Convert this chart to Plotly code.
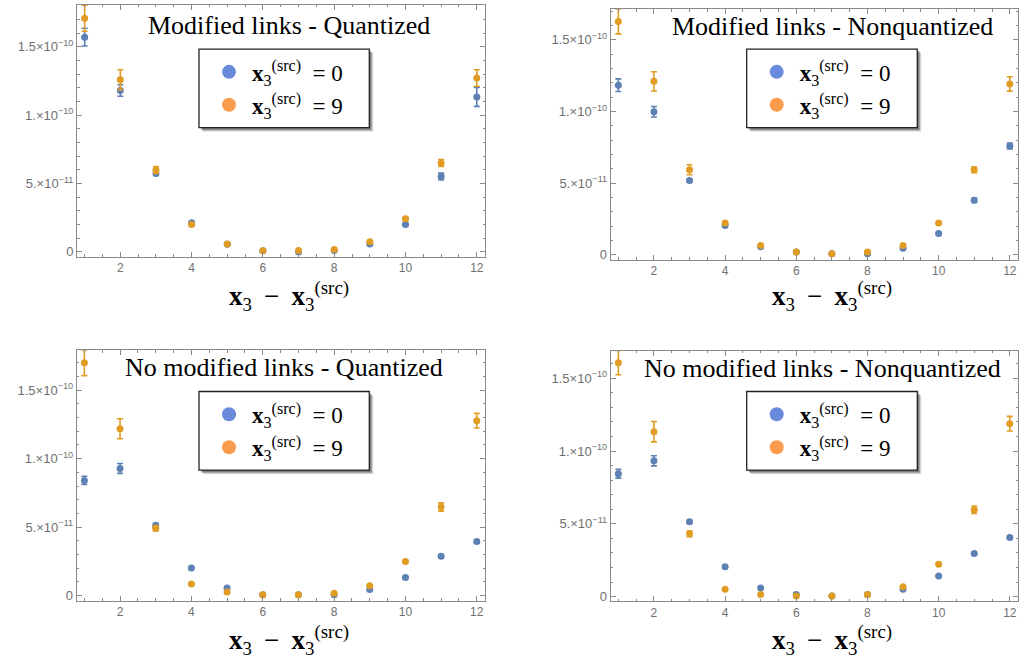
import plotly.graph_objects as go

# ---------------- data (values in units of 1e-11) ----------------
x_sep = [1, 2, 3, 4, 5, 6, 7, 8, 9, 10, 11, 12]

titles = ["Modified links - Quantized", "Modified links - Nonquantized",
          "No modified links - Quantized", "No modified links - Nonquantized"]

series_names = ["<b>x</b><sub>3</sub><sup>(src)</sup>  = 0",
                "<b>x</b><sub>3</sub><sup>(src)</sup>  = 9"]

# Modified links - Quantized
mq_src0 = [15.7, 11.8, 5.73, 2.13, 0.56, 0.08, 0.0, 0.10, 0.58, 2.01, 5.51, 11.33]
mq_src0_err = [0.65, 0.42, 0.15, 0.05, 0.03, 0.02, 0.02, 0.02, 0.05, 0.10, 0.25, 0.69]
mq_src9 = [17.08, 12.59, 5.99, 2.01, 0.57, 0.08, 0.10, 0.17, 0.75, 2.42, 6.50, 12.71]
mq_src9_err = [0.95, 0.73, 0.25, 0.05, 0.03, 0.02, 0.02, 0.03, 0.06, 0.12, 0.25, 0.60]

# Modified links - Nonquantized
mn_src0 = [11.83, 9.98, 5.19, 2.04, 0.56, 0.19, 0.07, 0.07, 0.46, 1.48, 3.80, 7.59]
mn_src0_err = [0.44, 0.37, 0.10, 0.05, 0.03, 0.02, 0.02, 0.02, 0.04, 0.08, 0.15, 0.20]
mn_src9 = [16.27, 12.10, 5.93, 2.22, 0.65, 0.19, 0.07, 0.19, 0.65, 2.22, 5.93, 11.92]
mn_src9_err = [0.86, 0.67, 0.35, 0.05, 0.03, 0.02, 0.02, 0.02, 0.04, 0.08, 0.20, 0.50]

# No modified links - Quantized
nq_src0 = [8.41, 9.28, 5.14, 2.01, 0.56, 0.07, 0.07, 0.07, 0.44, 1.33, 2.88, 3.95]
nq_src0_err = [0.30, 0.36, 0.12, 0.04, 0.02, 0.01, 0.01, 0.01, 0.03, 0.06, 0.10, 0.12]
nq_src9 = [17.00, 12.18, 4.92, 0.85, 0.27, 0.07, 0.07, 0.17, 0.73, 2.50, 6.47, 12.77]
nq_src9_err = [0.94, 0.73, 0.20, 0.04, 0.02, 0.01, 0.01, 0.02, 0.04, 0.08, 0.30, 0.53]

# No modified links - Nonquantized
nn_src0 = [8.44, 9.33, 5.15, 2.05, 0.59, 0.14, 0.05, 0.14, 0.50, 1.41, 2.96, 4.06]
nn_src0_err = [0.30, 0.35, 0.10, 0.04, 0.02, 0.01, 0.01, 0.01, 0.03, 0.06, 0.10, 0.12]
nn_src9 = [16.07, 11.33, 4.31, 0.50, 0.14, 0.05, 0.05, 0.14, 0.68, 2.23, 5.97, 11.88]
nn_src9_err = [0.83, 0.70, 0.20, 0.03, 0.02, 0.01, 0.01, 0.02, 0.04, 0.08, 0.25, 0.50]

y_tickvals = [0, 5, 10, 15]
y_ticktext = ["0", "5.×10<sup>−11</sup>", "1.×10<sup>−10</sup>", "1.5×10<sup>−10</sup>"]
x_tickvals = [2, 4, 6, 8, 10, 12]
x_ticktext = ["2", "4", "6", "8", "10", "12"]

panels = [
    (mq_src0, mq_src0_err, mq_src9, mq_src9_err),
    (mn_src0, mn_src0_err, mn_src9, mn_src9_err),
    (nq_src0, nq_src0_err, nq_src9, nq_src9_err),
    (nn_src0, nn_src0_err, nn_src9, nn_src9_err),
]

# ---------------- layout geometry (pixels) ----------------
W, H = 1019, 663
BLUE, ORANGE = "#5E81B5", "#E19C24"
BLUE_L, ORANGE_L = "#6A8BDB", "#FB9B4D"
SERIF = "Liberation Serif"
FRAME = "#8a8a8a"

# plot frames: left, right, top, bottom in px
frames = [(77, 485, 5, 258), (610.7, 1018, 9.3, 261),
          (76.7, 485, 351.7, 603.3), (610.7, 1018, 352.3, 604)]
y_ranges = [(-0.36, 18.05), (-0.35, 17.13), (-0.36, 17.92), (-0.32, 16.89)]
x_range = (0.785, 12.23)
title_pos = [(289, 26), (832, 27), (284, 369), (822, 370)]
xlabel_pos = [(289, 297), (832, 297), (289, 643), (832, 643)]
legend_boxes = [(199, 369.3, 49.3, 128.3), (746.7, 917.3, 49.3, 128.3),
                (199, 369.3, 393.3, 472.3), (746.7, 917.3, 393.3, 472.3)]

def px(xp):
    return xp / W

def py(yp):
    return 1 - yp / H

fig = go.Figure()
layout = dict(width=W, height=H, margin=dict(l=0, r=0, t=0, b=0),
              paper_bgcolor="white", plot_bgcolor="white", showlegend=True)
annotations = []
shapes = []

for i, (b, be, o, oe) in enumerate(panels):
    n = "" if i == 0 else str(i + 1)
    xa, ya = "x" + n, "y" + n
    leg = "legend" + n
    fig.add_trace(go.Scatter(
        x=x_sep, y=b, mode="markers", xaxis=xa, yaxis=ya, showlegend=False,
        marker=dict(color=BLUE, size=7),
        error_y=dict(type="data", array=be, color=BLUE, thickness=1.6, width=3)))
    fig.add_trace(go.Scatter(
        x=x_sep, y=o, mode="markers", xaxis=xa, yaxis=ya, showlegend=False,
        marker=dict(color=ORANGE, size=7),
        error_y=dict(type="data", array=oe, color=ORANGE, thickness=1.6, width=3)))
    # legend entries
    for name, col in zip(series_names, [BLUE_L, ORANGE_L]):
        fig.add_trace(go.Scatter(
            x=[None], y=[None], mode="markers", xaxis=xa, yaxis=ya, name=name,
            legend=leg, marker=dict(color=col, size=14)))

    l, r, t, btm = frames[i]
    axis_common = dict(showgrid=False, zeroline=False, showline=True,
                       linecolor=FRAME, linewidth=1, mirror="ticks",
                       ticks="inside", ticklen=5, tickcolor=FRAME, tickwidth=1)
    layout["xaxis" + n] = dict(
        axis_common, domain=[px(l), px(r)], range=list(x_range), anchor=ya,
        tickvals=x_tickvals, ticktext=x_ticktext,
        tickfont=dict(family="Liberation Sans", size=12, color="#707070"),
        minor=dict(dtick=0.5, tick0=0, ticks="inside", ticklen=2.5,
                   tickcolor=FRAME, tickwidth=1))
    layout["yaxis" + n] = dict(
        axis_common, domain=[py(btm), py(t)], range=list(y_ranges[i]), anchor=xa,
        tickvals=y_tickvals, ticktext=y_ticktext,
        tickfont=dict(family="Liberation Sans", size=13, color="#707070"),
        minor=dict(dtick=1, tick0=0, ticks="inside", ticklen=2.5,
                   tickcolor=FRAME, tickwidth=1))

    # panel title
    tx, ty = title_pos[i]
    annotations.append(dict(text=titles[i], x=px(tx), y=py(ty), xref="paper", yref="paper",
                            xanchor="center", yanchor="middle", showarrow=False,
                            font=dict(family=SERIF, size=26, color="black")))
    # x-axis label
    lx, ly = xlabel_pos[i]
    annotations.append(dict(
        text="<b>x</b><sub>3</sub>\u2009 −\u2009 <b>x</b><sub>3</sub><sup>(src)</sup>",
        x=px(lx), y=py(ly), xref="paper", yref="paper",
        xanchor="center", yanchor="middle", showarrow=False,
        font=dict(family=SERIF, size=27, color="black")))
    # legend frame with shadow
    bl, br, bt, bb = legend_boxes[i]
    for k, alpha in [(4, 0.12), (3, 0.2), (2, 0.3)]:
        shapes.append(dict(type="rect", xref="paper", yref="paper",
                           x0=px(bl + k), x1=px(br + k), y0=py(bb + k), y1=py(bt + k),
                           fillcolor="rgba(0,0,0,%g)" % alpha, line=dict(width=0),
                           layer="above"))
    shapes.append(dict(type="rect", xref="paper", yref="paper",
                       x0=px(bl), x1=px(br), y0=py(bb), y1=py(bt),
                       fillcolor="white", line=dict(color="#222222", width=1.3),
                       layer="above"))
    layout[leg] = dict(x=px(bl + 7), y=py((bt + bb) / 2), xanchor="left", yanchor="middle",
                       bgcolor="rgba(0,0,0,0)", borderwidth=0, itemwidth=36,
                       font=dict(family=SERIF, size=23, color="black"),
                       itemclick=False, tracegroupgap=0)

layout["annotations"] = annotations
layout["shapes"] = shapes
fig.update_layout(**layout)
fig.write_html("out.html", post_script="document.body.style.margin='0px';",
               config={"displayModeBar": False})
